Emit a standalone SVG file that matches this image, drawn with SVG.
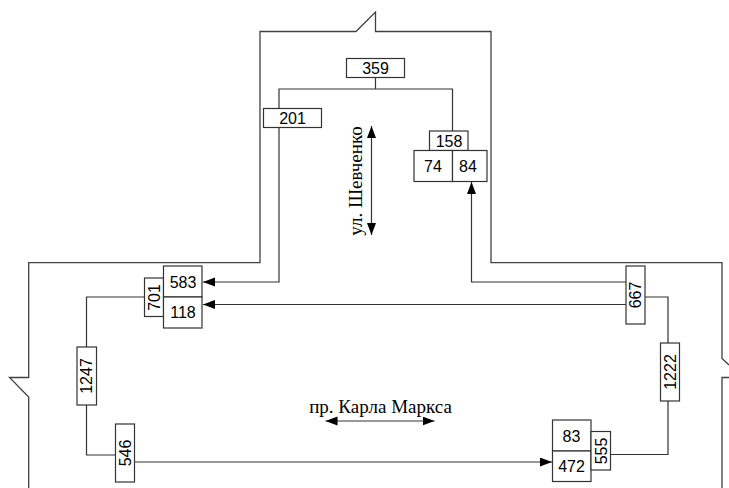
<svg xmlns="http://www.w3.org/2000/svg" width="729" height="488" viewBox="0 0 729 488">
<style>
.o{fill:none;stroke:#404040;stroke-width:1.3}
.b{fill:#fff;stroke:#333;stroke-width:1.2}
.c{fill:none;stroke:#333;stroke-width:1.2}
.t{font-family:"Liberation Sans",Arial,sans-serif;font-size:16px;fill:#000;text-anchor:middle}
.s{font-family:"Liberation Serif","Times New Roman",serif;font-size:19px;fill:#000;text-anchor:middle}
</style>
<defs>
<marker id="a" markerUnits="userSpaceOnUse" markerWidth="13" markerHeight="10" refX="12" refY="4.5" orient="auto-start-reverse"><path d="M0 0L12 4.5L0 9z" fill="#000"/></marker>
</defs>
<g id="outline">
<path class="o" d="M28.700 488V397L9.500 377.500H28.700V262.700H260V31.500H356L375.500 12V31.500H491V262.700H722V358.500L729 365"/>
<path class="o" d="M729 377.500H722V488"/>
</g>
<g id="connectors">
<path class="c" d="M375.500 77.500V89M279 108.500V89H452.500V131"/>
<path class="c" d="M279 127.500V282H203" marker-end="url(#a)"/>
<path class="c" d="M626 282H471.500V182" marker-end="url(#a)"/>
<path class="c" d="M626 304.500H203" marker-end="url(#a)"/>
<path class="c" d="M144.500 297H86.500V347M86.500 405V455H115.500"/>
<path class="c" d="M134.500 462H552" marker-end="url(#a)"/>
<path class="c" d="M645 297H668V343M668 401V454.500H610.500"/>
<path class="c" d="M371.500 126V235" marker-start="url(#a)" marker-end="url(#a)"/>
<path class="c" d="M325.500 421H434.500" marker-start="url(#a)" marker-end="url(#a)"/>
</g>
<g id="n359"><rect class="b" x="346.500" y="58.500" width="58" height="19"/><text class="t" x="375.500" y="73.500">359</text></g>
<g id="n201"><rect class="b" x="263.500" y="108.500" width="58" height="19"/><text class="t" x="292.500" y="123.500">201</text></g>
<g id="n158"><rect class="b" x="429.500" y="131" width="38.500" height="19.500"/><text class="t" x="449" y="146.500">158</text></g>
<g id="n74"><rect class="b" x="414" y="150.500" width="38.500" height="31"/><text class="t" x="433" y="172">74</text></g>
<g id="n84"><rect class="b" x="452.500" y="150.500" width="34.500" height="31"/><text class="t" x="468" y="172">84</text></g>
<g id="n701"><rect class="b" x="144.500" y="278" width="19" height="38.500"/><text class="t" transform="translate(159.500 297.500) rotate(-90)">701</text></g>
<g id="n583"><rect class="b" x="163.500" y="266" width="38.500" height="31"/><text class="t" x="183" y="287.500">583</text></g>
<g id="n118"><rect class="b" x="163.500" y="297" width="38.500" height="31"/><text class="t" x="183" y="317.500">118</text></g>
<g id="n1247"><rect class="b" x="77" y="347" width="19.500" height="58"/><text class="t" transform="translate(91.500 376) rotate(-90)">1247</text></g>
<g id="n546"><rect class="b" x="115.500" y="424" width="19" height="58"/><text class="t" transform="translate(130.500 453) rotate(-90)">546</text></g>
<g id="n667"><rect class="b" x="626" y="266" width="19" height="58"/><text class="t" transform="translate(641 295) rotate(-90)">667</text></g>
<g id="n1222"><rect class="b" x="660.500" y="343" width="19" height="58"/><text class="t" transform="translate(675.500 372) rotate(-90)">1222</text></g>
<g id="n83"><rect class="b" x="552.500" y="420" width="38.500" height="31"/><text class="t" x="571.500" y="441.500">83</text></g>
<g id="n472"><rect class="b" x="552.500" y="451" width="38.500" height="30.500"/><text class="t" x="571.500" y="471.500">472</text></g>
<g id="n555"><rect class="b" x="591" y="431.500" width="19.500" height="38.500"/><text class="t" transform="translate(606.500 451) rotate(-90)">555</text></g>
<text class="s" transform="translate(362 181) rotate(-90)">ул. Шевченко</text>
<text class="s" x="380.500" y="413">пр. Карла Маркса</text>
</svg>
